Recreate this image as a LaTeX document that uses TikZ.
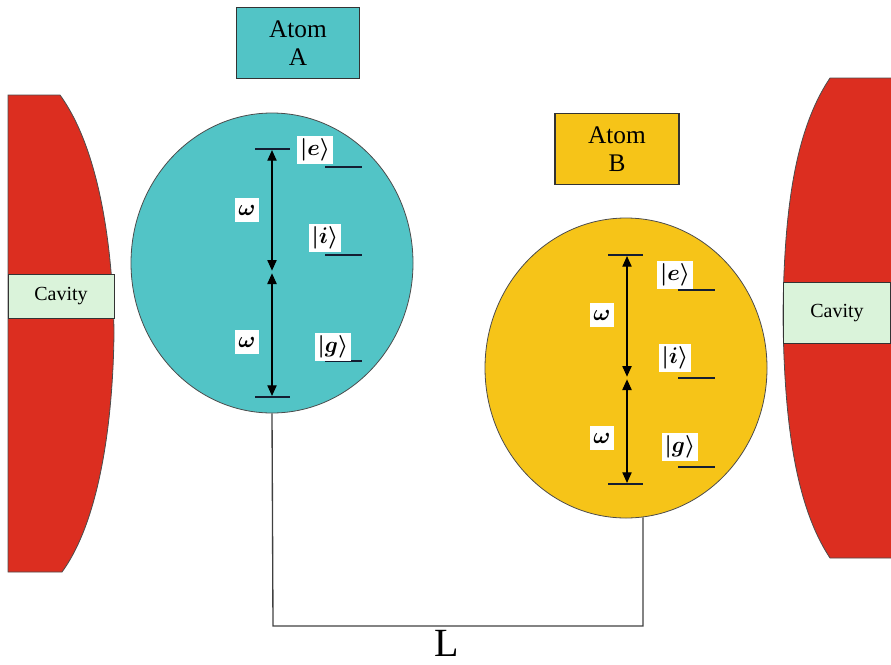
\RequirePackage{fix-cm}
\documentclass[tikz,border=0pt]{standalone}
\usepackage{fontspec}
\setmainfont{Liberation Serif}
\usetikzlibrary{shapes.geometric,arrows.meta}
\definecolor{teal}{RGB}{82,196,198}
\definecolor{gold}{RGB}{246,196,24}
\definecolor{cavred}{RGB}{220,46,32}
\definecolor{cavgreen}{RGB}{218,243,218}
\definecolor{lvl}{RGB}{20,30,50}
\tikzset{
  atombox/.style={draw=black!80, line width=0.9pt, minimum width=92pt, minimum height=53pt, align=center, font=\fontsize{19}{21}\selectfont, inner sep=0pt},
  atomcirc/.style={ellipse, draw=black!70, line width=0.6pt, minimum width=211.5pt, minimum height=225pt, inner sep=0pt},
  cavlabel/.style={draw=black!80, line width=0.6pt, fill=cavgreen, font=\fontsize{15}{16}\selectfont, inner sep=0pt},
  cavshape/.style={fill=cavred, draw=black!70, line width=0.6pt},
  lbl/.style={fill=white, inner sep=2pt, minimum height=18pt, minimum width=18pt, font=\fontsize{17}{19}\selectfont\boldmath},
  level/.style={draw=lvl, line width=1pt},
  tr/.style={draw=black, line width=0.9pt, {Triangle[width=7pt,length=8pt]}-{Triangle[width=7pt,length=8pt]}},
  conn/.style={draw=black!75, line width=1pt}
}
\begin{document}
\begin{tikzpicture}[x=0.75pt,y=-0.75pt]
\useasboundingbox (0,0) rectangle (891,664);
% cavities
\draw[cavshape] (8,95) -- (60,95) .. controls (100,150) and (113,250) .. (114,333)
  .. controls (113,420) and (100,520) .. (62,572) -- (8,572) -- cycle;
\draw[cavshape] (891,78) -- (830,78) .. controls (795,130) and (784,210) .. (783,315)
  .. controls (784,420) and (795,505) .. (830,558) -- (891,558);
\node[cavlabel, minimum width=79.5pt, minimum height=33pt] (cavL) at (61,296) {Cavity};
\node[cavlabel, minimum width=80pt, minimum height=46pt] (cavR) at (837,313) {Cavity};
% atoms
\node[atombox, fill=teal] (boxA) at (298,43) {Atom\\A};
\node[atombox, fill=gold, minimum width=93pt] (boxB) at (617,149) {Atom\\B};
\node[atomcirc, fill=teal] (cA) at (272,263) {};
\node[atomcirc, fill=gold] (cB) at (626,368) {};
% levels A
\coordinate (Atop) at (272,149); \coordinate (Amid) at (272,272); \coordinate (Abot) at (272,397);
\draw[level] (255,149) -- (290,149);
\draw[level] (255,397) -- (290,397);
\draw[level] (325,167) -- (362,167);
\draw[level] (325,255) -- (362,255);
\draw[level] (325,361) -- (362,361);
\draw[tr] ([yshift=-0.8pt]Atop) -- ([yshift=1pt]Amid);
\draw[tr] ([yshift=-1pt]Amid) -- ([yshift=0.8pt]Abot);
\node[lbl] (wA1) at (247,210) {$\omega$};
\node[lbl] (wA2) at (247,342) {$\omega$};
\node[lbl] (eA) at (315,150) {$|e\rangle$};
\node[lbl] (iA) at (325,238) {$|i\rangle$};
\node[lbl] (gA) at (333,347) {$|g\rangle$};
% levels B
\coordinate (Btop) at (627,255); \coordinate (Bmid) at (627,378); \coordinate (Bbot) at (627,484);
\draw[level] (608,255) -- (643,255);
\draw[level] (608,484) -- (643,484);
\draw[level] (678,290) -- (715,290);
\draw[level] (678,378) -- (715,378);
\draw[level] (678,467) -- (715,467);
\draw[tr] ([yshift=-0.8pt]Btop) -- ([yshift=1pt]Bmid);
\draw[tr] ([yshift=-1pt]Bmid) -- ([yshift=0.8pt]Bbot);
\node[lbl] (wB1) at (602,315) {$\omega$};
\node[lbl] (wB2) at (602,438) {$\omega$};
\node[lbl] (eB) at (675,275) {$|e\rangle$};
\node[lbl] (iB) at (675,358) {$|i\rangle$};
\node[lbl] (gB) at (680,447) {$|g\rangle$};
% connector
\coordinate (LA) at (273,626);
\coordinate (LB) at (643,626);
\draw[conn] (cA.south) -- (LA) -- (LB) -- (LB |- cB.-84);
\node[font=\fontsize{30}{32}\selectfont, inner sep=0pt] (L) at (447,643) {L};
\end{tikzpicture}
\end{document}
